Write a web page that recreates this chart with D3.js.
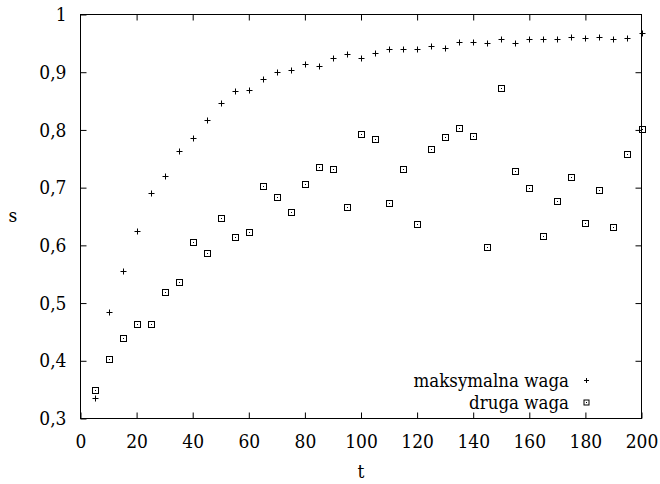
<!DOCTYPE html>
<html>
<head lang="pl">
    <meta charset="UTF-8">
    <title>maksymalna waga / druga waga</title>
    <script type="text/javascript" src="https://cdn.jsdelivr.net/npm/d3@7/dist/d3.min.js"></script>
    <style>
        body { margin: 0; background: #fff; }
    </style>
</head>
<body>
<svg width="660" height="484"></svg>

<script>
    // t values shared by both series
    var tValues = [5, 10, 15, 20, 25, 30, 35, 40, 45, 50, 55, 60, 65, 70, 75, 80, 85, 90, 95, 100,
        105, 110, 115, 120, 125, 130, 135, 140, 145, 150, 155, 160, 165, 170, 175, 180, 185, 190, 195, 200];

    var maxWeight = [0.335, 0.485, 0.556, 0.625, 0.690, 0.721, 0.764, 0.786, 0.818, 0.846,
        0.868, 0.870, 0.889, 0.900, 0.903, 0.914, 0.911, 0.924, 0.931, 0.924,
        0.933, 0.941, 0.940, 0.941, 0.945, 0.942, 0.952, 0.952, 0.950, 0.957,
        0.951, 0.958, 0.957, 0.957, 0.961, 0.959, 0.961, 0.958, 0.959, 0.968];

    var secondWeight = [0.349, 0.403, 0.439, 0.463, 0.464, 0.519, 0.537, 0.606, 0.586, 0.647,
        0.614, 0.623, 0.703, 0.684, 0.657, 0.707, 0.735, 0.732, 0.667, 0.793,
        0.785, 0.673, 0.732, 0.637, 0.767, 0.788, 0.804, 0.789, 0.597, 0.873,
        0.728, 0.700, 0.617, 0.676, 0.718, 0.639, 0.696, 0.631, 0.759, 0.801];

    var xTicks = [0, 20, 40, 60, 80, 100, 120, 140, 160, 180, 200];
    var yTicks = [0.3, 0.4, 0.5, 0.6, 0.7, 0.8, 0.9, 1];
    var seriesNames = ["maksymalna waga", "druga waga"];

    // only the DejaVu serif is picked up in the sandbox; the condensed cut is closest to Times widths
    var serif = "DejaVu Serif Condensed";

    var svg = d3.select("svg");
    // plot frame (note: "top" is reserved on window, so use explicit names)
    var plotLeft = 80.5, plotRight = 641.5, plotTop = 14.5, plotBottom = 418.5;

    var x = d3.scaleLinear().domain([0, 200]).range([plotLeft, plotRight]);
    var y = d3.scaleLinear().domain([0.3, 1]).range([plotBottom, plotTop]);

    var fmt = function (d) { return d3.format("")(d).replace(".", ","); };
    var tickLen = 6;

    // axes: bottom/left carry labels, top/right are mirrored ticks only
    svg.append("g").attr("transform", "translate(0," + plotBottom + ")")
        .call(d3.axisBottom(x).tickValues(xTicks).tickSize(-tickLen).tickPadding(16).tickFormat(fmt))
        .call(function (g) { g.select(".domain").remove(); });
    svg.append("g").attr("transform", "translate(0," + plotTop + ")")
        .call(d3.axisTop(x).tickValues(xTicks.slice(1, -1)).tickSize(-tickLen).tickFormat(""))
        .call(function (g) { g.select(".domain").remove(); });
    svg.append("g").attr("transform", "translate(" + plotLeft + ",0)")
        .call(d3.axisLeft(y).tickValues(yTicks).tickSize(-tickLen).tickPadding(14).tickFormat(fmt))
        .call(function (g) { g.select(".domain").remove(); });
    svg.append("g").attr("transform", "translate(" + plotRight + ",0)")
        .call(d3.axisRight(y).tickValues(yTicks.slice(1, -1)).tickSize(-tickLen).tickFormat(""))
        .call(function (g) { g.select(".domain").remove(); });

    svg.selectAll("g").attr("font-family", serif).attr("font-size", null);
    svg.selectAll(".tick text").style("font-size", "19px").attr("fill", "#000");
    svg.selectAll(".tick line").attr("stroke", "#000");

    svg.append("rect")
        .attr("x", plotLeft).attr("y", plotTop)
        .attr("width", plotRight - plotLeft).attr("height", plotBottom - plotTop)
        .attr("fill", "none").attr("stroke", "#000").attr("stroke-width", 1);

    // axis titles
    svg.append("text").attr("x", 13).attr("y", 222).attr("text-anchor", "middle")
        .attr("font-family", serif).style("font-size", "19px").text("s");
    svg.append("text").attr("x", (plotLeft + plotRight) / 2).attr("y", 478).attr("text-anchor", "middle")
        .attr("font-family", serif).style("font-size", "19px").text("t");

    function plus(g, cx, cy, r) {
        g.append("path")
            .attr("d", "M" + (cx - r) + "," + cy + "H" + (cx + r) + "M" + cx + "," + (cy - r) + "V" + (cy + r))
            .attr("stroke", "#000").attr("stroke-width", 1).attr("fill", "none");
    }
    function square(g, cx, cy, r) {
        g.append("rect").attr("x", cx - r).attr("y", cy - r).attr("width", 2 * r).attr("height", 2 * r)
            .attr("fill", "none").attr("stroke", "#000").attr("stroke-width", 1);
        g.append("rect").attr("x", cx - 0.5).attr("y", cy - 0.5).attr("width", 1).attr("height", 1)
            .attr("fill", "#000");
    }

    var marks = svg.append("g");
    tValues.forEach(function (t, i) {
        plus(marks, Math.round(x(t)) + 0.5, Math.round(y(maxWeight[i])) + 0.5, 3);
        square(marks, Math.round(x(t)) + 0.5, Math.round(y(secondWeight[i])) + 0.5, 3);
    });

    // legend
    var legend = svg.append("g");
    legend.append("text").attr("x", 569).attr("y", 387).attr("text-anchor", "end")
        .attr("font-family", serif).style("font-size", "18.5px").text(seriesNames[0]);
    legend.append("text").attr("x", 569).attr("y", 409).attr("text-anchor", "end")
        .attr("font-family", serif).style("font-size", "18.5px").text(seriesNames[1]);
    plus(legend, 586.5, 380.5, 2.5);
    square(legend, 586.5, 402.5, 2.5);
</script>
</body>
</html>
